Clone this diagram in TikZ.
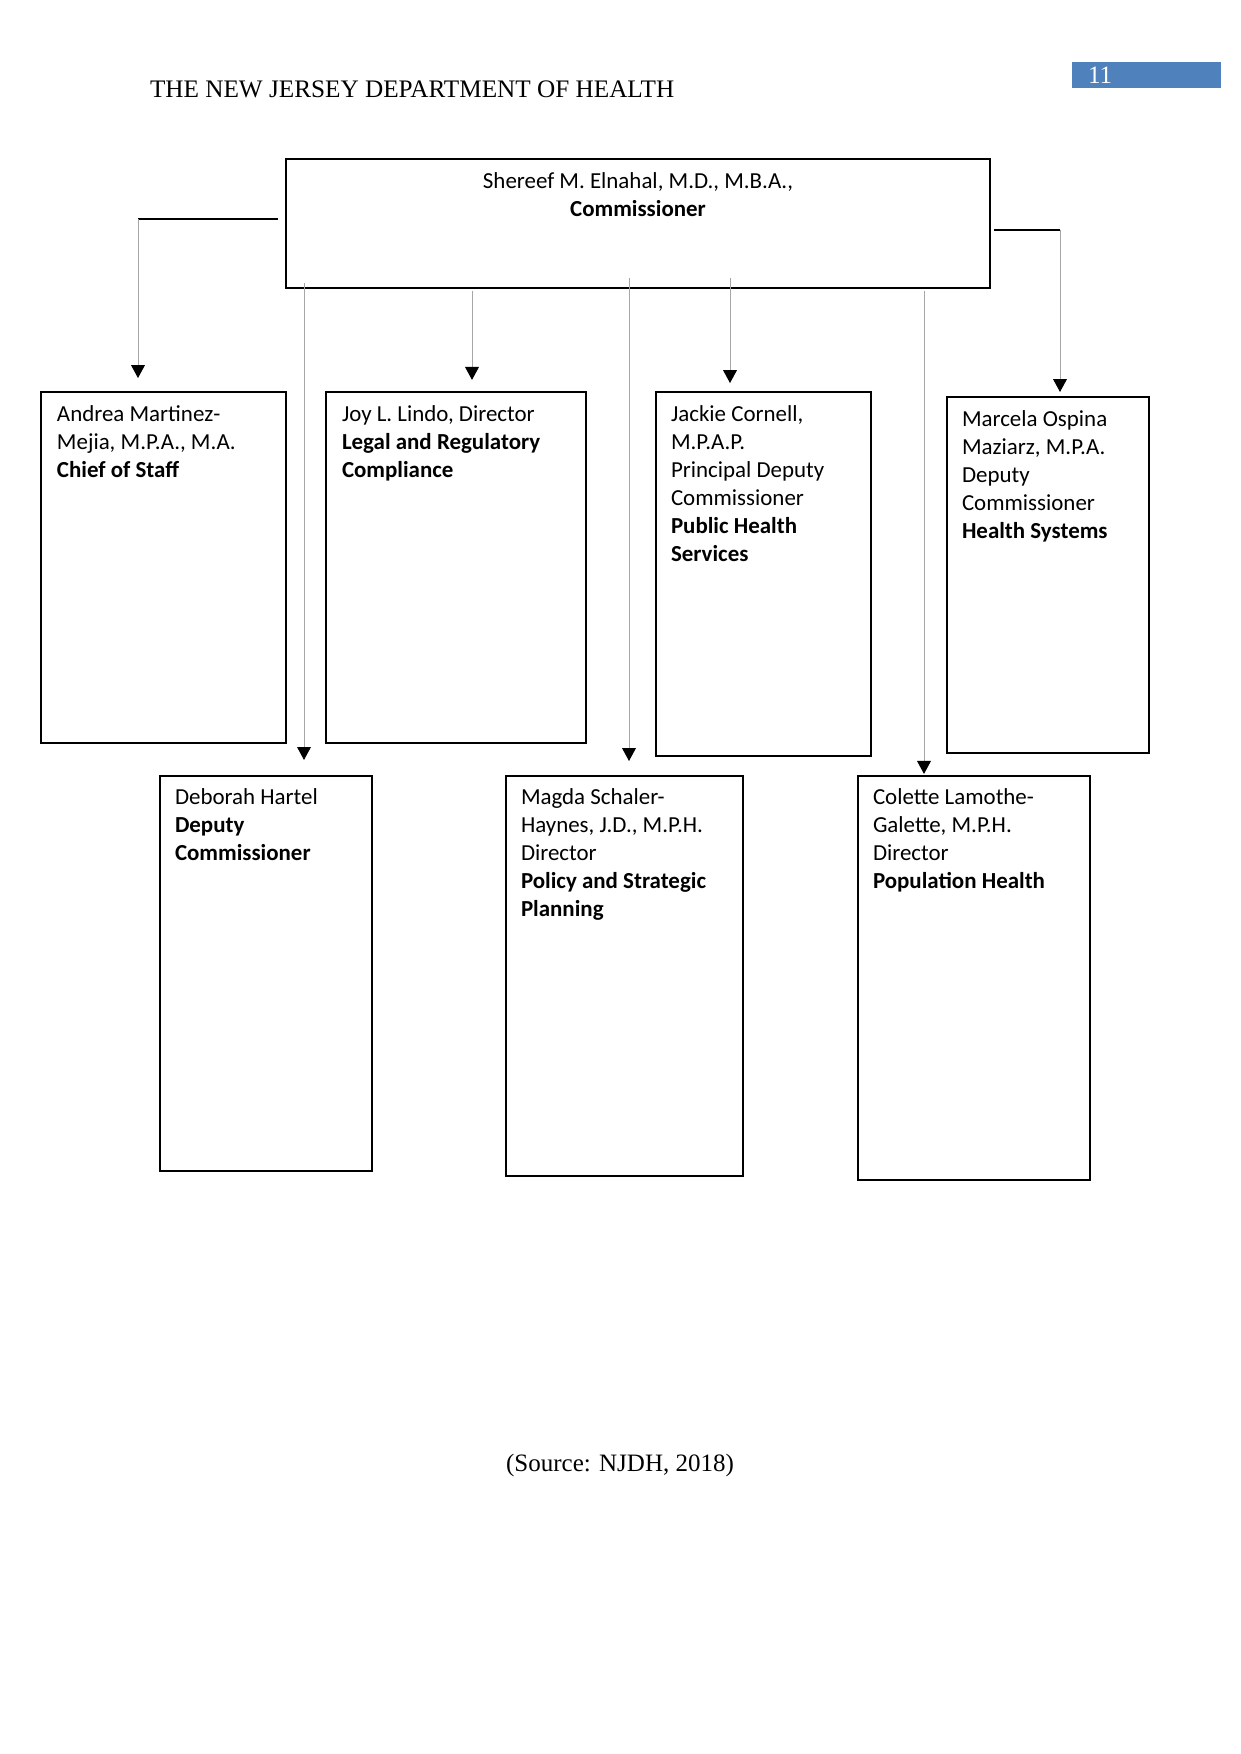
\documentclass[tikz,border=0pt]{standalone}
\usepackage{fontspec}
\setmainfont{Liberation Serif}
\newfontfamily\boxfont{Carlito}
\usetikzlibrary{arrows.meta}
\usetikzlibrary{positioning}
\usetikzlibrary{calc}

\definecolor{pageblue}{RGB}{79,129,189}
\def\px{0.4797pt} % one pixel of the page image

\begin{document}
\begin{tikzpicture}[x=\px, y=-\px,
    every node/.style={inner sep=0pt, outer sep=0pt},
    orgbox/.style={draw, line width=0.55pt, anchor=north west},
    orgtext/.style={anchor=north west, align=left, font=\boxfont\fontsize{11}{13.4}\selectfont},
    feed/.style={draw=black!35, line width=0.45pt, -{Triangle[width=6.6pt, length=6.2pt, color=black]}},
    stub/.style={draw=black, line width=0.6pt}]

        \useasboundingbox (0,0) rectangle (1241,1754);

        % page head
        \node[anchor=base west, font=\fontsize{12.1}{14}\selectfont] (head) at (150,98) {THE NEW JERSEY DEPARTMENT OF HEALTH};
        \node[anchor=north west, fill=pageblue, minimum width=149*\px, minimum height=26*\px] (pagebox) at (1072,62) {};
        \node[anchor=west, text=white, font=\fontsize{12}{14}\selectfont] (pagenum) at ([shift={(16,0)}]pagebox.west) {11};

        % commissioner
        \node[orgbox, minimum width=704*\px, minimum height=129*\px] (comm) at (286,159) {};
        \node[anchor=north, align=center, font=\boxfont\fontsize{11}{13.4}\selectfont] (comm-txt) at ([shift={(0,14)}]comm.north) {Shereef M. Elnahal, M.D., M.B.A.,\\\textbf{Commissioner}};

        % first row
        \node[orgbox, minimum width=245*\px, minimum height=351*\px] (andrea) at (41,392) {};
        \node[orgbox, minimum width=260*\px, minimum height=351*\px] (joy) at (326,392) {};
        \node[orgbox, minimum width=215*\px, minimum height=364*\px] (jackie) at (656,392) {};
        \node[orgbox, minimum width=202*\px, minimum height=356*\px] (marcela) at (947,397) {};

        \node[orgtext] (andrea-txt) at ([shift={(16,14)}]andrea.north west) {Andrea Martinez-\\Mejia, M.P.A., M.A.\\\textbf{Chief of Staff}};
        \node[orgtext] (joy-txt) at ([shift={(16,14)}]joy.north west) {Joy L. Lindo, Director\\\textbf{Legal and Regulatory}\\\textbf{Compliance}};
        \node[orgtext] (jackie-txt) at ([shift={(15,14)}]jackie.north west) {Jackie Cornell,\\M.P.A.P.\\Principal Deputy\\Commissioner\\\textbf{Public Health}\\\textbf{Services}};
        \node[orgtext] (marcela-txt) at ([shift={(15,14)}]marcela.north west) {Marcela Ospina\\Maziarz, M.P.A.\\Deputy\\Commissioner\\\textbf{Health Systems}};

        % second row
        \node[orgbox, minimum width=212*\px, minimum height=395*\px] (deborah) at (160,776) {};
        \node[orgbox, minimum width=237*\px, minimum height=400*\px] (magda) at (506,776) {};
        \node[orgbox, minimum width=232*\px, minimum height=404*\px] (colette) at (858,776) {};

        \node[orgtext] (deborah-txt) at ([shift={(15,13)}]deborah.north west) {Deborah Hartel\\\textbf{Deputy}\\\textbf{Commissioner}};
        \node[orgtext] (magda-txt) at ([shift={(15,13)}]magda.north west) {Magda Schaler-\\Haynes, J.D., M.P.H.\\Director\\\textbf{Policy and Strategic}\\\textbf{Planning}};
        \node[orgtext] (colette-txt) at ([shift={(15,13)}]colette.north west) {Colette Lamothe-\\Galette, M.P.H.\\Director\\\textbf{Population Health}};

        % connectors
        \coordinate (lstub) at (278,219);
        \coordinate (lcorner) at (138,219);
        \coordinate (rstub) at (994,230);
        \coordinate (rcorner) at (1060,230);
        \coordinate (s-joy) at (472,291);
        \coordinate (s-jackie) at (730,278);
        \coordinate (s-deborah) at (304,283);
        \coordinate (s-magda) at (629,278);
        \coordinate (s-colette) at (924,291);

        \draw[stub] (lstub) -- (lcorner);
        \draw[stub] (rstub) -- (rcorner);

        \draw[feed, shorten >=6.7pt] (lcorner) -- (lcorner |- andrea.north);
        \draw[feed, shorten >=5.8pt] (s-joy) -- (s-joy |- joy.north);
        \draw[feed, shorten >=4.3pt] (s-jackie) -- (s-jackie |- jackie.north);
        \draw[feed, shorten >=2.4pt] (rcorner) -- (rcorner |- marcela.north);
        \draw[feed, shorten >=7.7pt] (s-deborah) -- (s-deborah |- deborah.north);
        \draw[feed, shorten >=7.2pt] (s-magda) -- (s-magda |- magda.north);
        \draw[feed, shorten >=1pt] (s-colette) -- (s-colette |- colette.north);

        % source line
        \node[font=\fontsize{12}{14}\selectfont] (source) at (620,1465) {(Source: NJDH, 2018)};

\end{tikzpicture}
\end{document}
